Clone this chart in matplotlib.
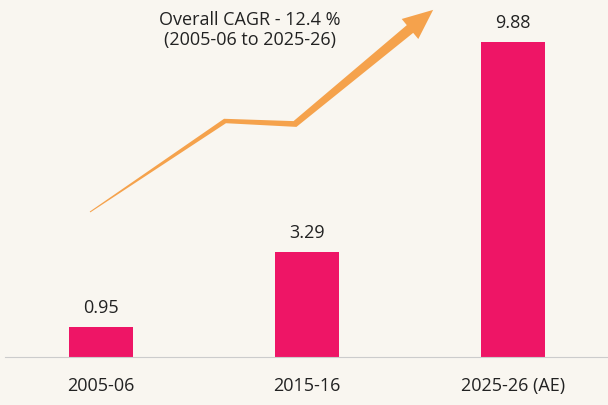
import numpy as np
import matplotlib.pyplot as plt
from matplotlib.patches import Polygon

years = ['2005-06', '2015-16', '2025-26 (AE)']
values = [0.95, 3.29, 9.88]
labels = ['0.95', '3.29', '9.88']

bg = '#f9f6f0'
plt.rcParams['font.family'] = ['Open Sans', 'DejaVu Sans']

fig = plt.figure(figsize=(6.08, 4.06), dpi=100, facecolor=bg)
ax = fig.add_axes([0, 48/406, 1, 358/406])
ax.set_facecolor(bg)
x = np.arange(len(years))
ax.bar(x, values, width=0.31, color='#ee1566')
for xi, v, t in zip(x, values, labels):
    ax.text(xi, v + 0.35, t, ha='center', va='bottom', fontsize=13, color='#222222')
ax.set_xlim(-0.49, 2.461)
ax.set_ylim(0, 11.22)
ax.set_xticks(x)
ax.set_xticklabels(years, fontsize=13, color='#222222')
ax.tick_params(axis='x', length=0, pad=14)
ax.set_yticks([])
for s in ['top', 'right', 'left']:
    ax.spines[s].set_visible(False)
ax.spines['bottom'].set_color('#cccccc')
ax.spines['bottom'].set_bounds(-0.465, 2.461)

# trend arrow, drawn in pixel coordinates (y down)
pts = np.array([[90, 213], [225, 122], [295, 125], [410, 30]], float)
seg = np.diff(pts, axis=0)
lens = np.hypot(seg[:, 0], seg[:, 1])
cum = np.concatenate([[0], np.cumsum(lens)])
w = 1 + 9 * cum / cum[-1]
nrm = []
for i in range(len(pts)):
    d = seg[min(i, len(seg) - 1)] if i == 0 or i == len(seg) else seg[i - 1] + seg[i]
    d = d / np.hypot(*d)
    nrm.append([-d[1], d[0]])
nrm = np.array(nrm)
left = pts + nrm * w[:, None] / 2
right = pts - nrm * w[:, None] / 2
d = seg[-1] / lens[-1]
n = np.array([-d[1], d[0]])
tip = pts[-1] + d * 30
head = [pts[-1] + n * 13, tip, pts[-1] - n * 13]
poly = np.vstack([left, head, right[::-1]])
poly[:, 0] /= 608
poly[:, 1] = 1 - poly[:, 1] / 406
fig.patches.append(Polygon(poly, closed=True, transform=fig.transFigure,
                           color='#f5a24c', lw=0))

fig.text(250/608, 1 - 30/406, 'Overall CAGR - 12.4 %\n(2005-06 to 2025-26)',
         ha='center', va='center', fontsize=13, color='#222222', linespacing=1.2)

fig.savefig('out.png', dpi=100, facecolor=bg)
